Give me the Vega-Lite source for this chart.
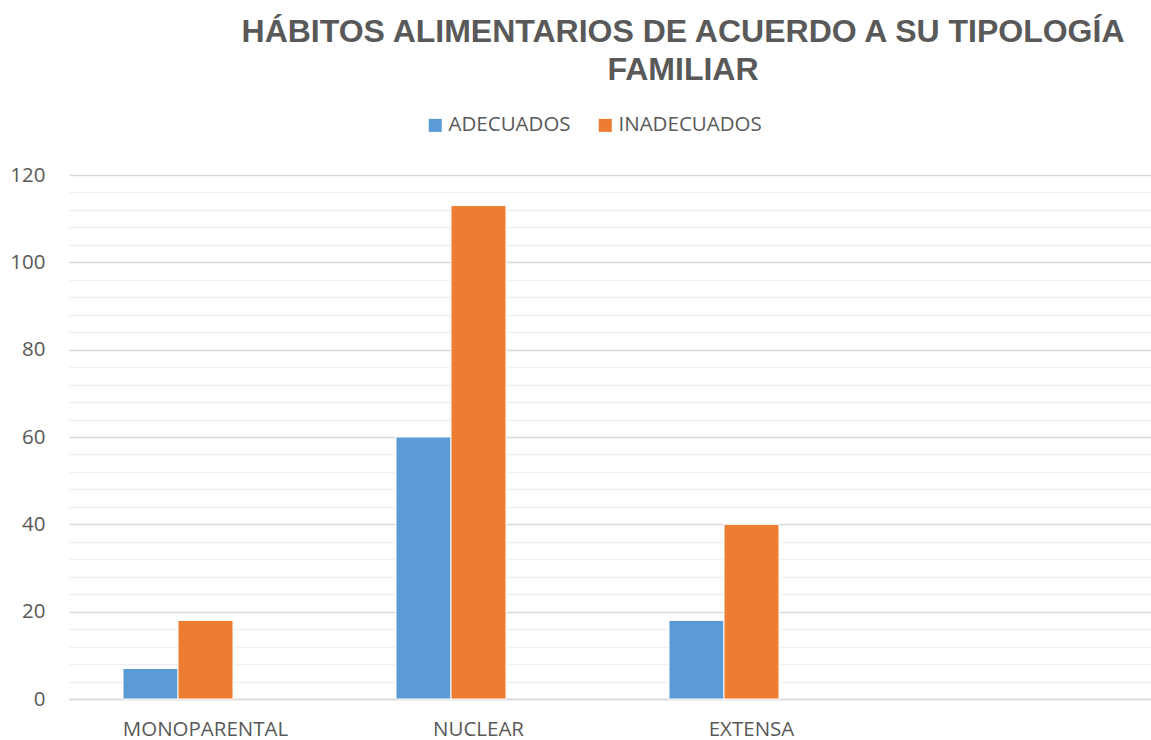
{
  "$schema": "https://vega.github.io/schema/vega-lite/v6.json",
  "width": 1092,
  "height": 524,
  "autosize": {"type": "none"},
  "padding": {"left": 69, "top": 175, "right": 0, "bottom": 41},
  "background": "white",
  "config": {"view": {"stroke": null}},
  "title": {
    "text": ["HÁBITOS ALIMENTARIOS DE ACUERDO A SU TIPOLOGÍA", "FAMILIAR"],
    "font": "Liberation Sans",
    "fontSize": 32,
    "fontWeight": "bold",
    "color": "#595959",
    "anchor": "middle",
    "dx": 68,
    "offset": 28,
    "lineHeight": 38
  },
  "data": {
    "values": [
      {"tipo": "MONOPARENTAL", "serie": "ADECUADOS", "valor": 7},
      {"tipo": "MONOPARENTAL", "serie": "INADECUADOS", "valor": 18},
      {"tipo": "NUCLEAR", "serie": "ADECUADOS", "valor": 60},
      {"tipo": "NUCLEAR", "serie": "INADECUADOS", "valor": 113},
      {"tipo": "EXTENSA", "serie": "ADECUADOS", "valor": 18},
      {"tipo": "EXTENSA", "serie": "INADECUADOS", "valor": 40}
    ]
  },
  "mark": {"type": "bar", "stroke": "white", "strokeWidth": 1},
  "encoding": {
    "x": {
      "field": "tipo",
      "type": "nominal",
      "scale": {"domain": ["MONOPARENTAL", "NUCLEAR", "EXTENSA", " "], "paddingInner": 0.3956, "paddingOuter": 0.1978},
      "axis": {
        "title": null,
        "labelAngle": 0,
        "labelFont": "Open Sans",
        "labelFontSize": 20.5,
        "labelColor": "#595959",
        "labelPadding": 20,
        "ticks": false,
        "domain": true,
        "domainColor": "#d9d9d9",
        "domainWidth": 1.5,
        "grid": false
      }
    },
    "xOffset": {
      "field": "serie",
      "type": "nominal",
      "scale": {"domain": ["ADECUADOS", "INADECUADOS", "_"], "paddingInner": 0, "paddingOuter": 0}
    },
    "y": {
      "field": "valor",
      "type": "quantitative",
      "scale": {"domain": [0, 120], "nice": false},
      "axis": {
        "title": null,
        "values": [0,4,8,12,16,20,24,28,32,36,40,44,48,52,56,60,64,68,72,76,80,84,88,92,96,100,104,108,112,116,120],
        "labelExpr": "datum.value % 20 === 0 ? datum.label : ''",
        "labelFont": "Open Sans",
        "labelFontSize": 20.5,
        "labelColor": "#595959",
        "labelPadding": 24,
        "ticks": false,
        "domain": false,
        "grid": true,
        "gridColor": {"condition": {"test": "datum.value % 20 === 0", "value": "#d9d9d9"}, "value": "#f0f0f0"},
        "gridWidth": 1.5
      }
    },
    "color": {
      "field": "serie",
      "type": "nominal",
      "scale": {"domain": ["ADECUADOS", "INADECUADOS"], "range": ["#5B9BD5", "#ED7D31"]},
      "legend": {
        "title": null,
        "orient": "none",
        "legendX": 356,
        "legendY": -60,
        "direction": "horizontal",
        "symbolType": "square",
        "symbolSize": 170,
        "symbolStrokeWidth": 0,
        "labelFont": "Open Sans",
        "labelFontSize": 20.5,
        "labelColor": "#595959",
        "columnPadding": 24,
        "labelOffset": 3
      }
    }
  }
}
